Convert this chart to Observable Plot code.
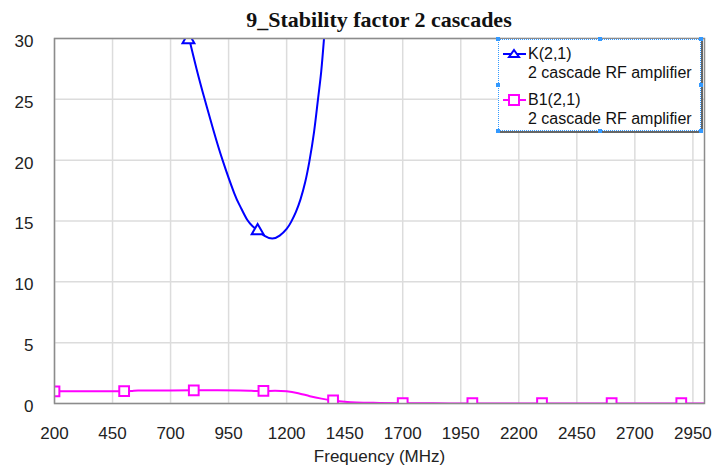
<!DOCTYPE html>
<html><head><meta charset="utf-8">
<script src="https://cdn.jsdelivr.net/npm/d3@7"></script>
<script src="https://cdn.jsdelivr.net/npm/@observablehq/plot@0.6"></script>
<style>
body{margin:0;background:#fff;}
#wrap{position:relative;width:714px;height:468px;overflow:hidden;font-family:"Liberation Sans",Arial,sans-serif;}
#title{position:absolute;left:54px;top:5px;width:650px;height:30px;line-height:30px;text-align:center;font-family:"Liberation Serif","Times New Roman",serif;font-weight:bold;font-size:22px;color:#111;white-space:nowrap;}
#chart{position:absolute;left:0;top:30px;}
#legend{position:absolute;left:498px;top:39px;width:203px;height:92px;background:#fff;border:1px dotted #3399ff;box-shadow:2px 2px 0 #666;box-sizing:border-box;}
#legend .t{position:absolute;left:29px;font-size:16px;line-height:18px;color:#111;white-space:nowrap;}
#legend svg{position:absolute;left:4px;}
.h{position:absolute;width:4px;height:4px;background:#3399ff;}
</style></head><body>
<div id="wrap">
<div id="title">9_Stability factor 2 cascades</div>
<div id="chart"></div>
<div id="legend"></div>
</div>
<script>
// K(2,1) trace
const kFreq  = [750, 780, 812, 847, 884, 924, 974, 1000, 1030, 1055, 1075, 1105, 1138, 1170, 1200, 1220, 1240, 1260, 1280, 1298, 1318, 1335, 1349, 1361, 1372];
const kValue = [32.4, 30, 27.5, 25, 22.5, 20, 17.3, 16.2, 15.1, 14.55, 14.2, 13.78, 13.56, 13.8, 14.35, 14.95, 15.75, 16.8, 18.2, 19.9, 22.3, 25, 27.3, 30, 32.6];
const kMarkFreq  = [777, 1075];
const kMarkValue = [29.9, 14.2];
// B1(2,1) trace
const b1Freq  = [200, 300, 400, 500, 530, 560, 600, 700, 800, 900, 1000, 1040, 1060, 1100, 1150, 1200, 1250, 1300, 1350, 1400, 1450, 1500, 1600, 1700, 1800, 1900, 2000, 2200, 2400, 2600, 2800, 3000];
const b1Value = [1.0, 1.0, 1.0, 1.01, 1.03, 1.07, 1.07, 1.07, 1.08, 1.08, 1.07, 1.05, 1.03, 1.03, 1.04, 1.0, 0.85, 0.6, 0.4, 0.25, 0.14, 0.08, 0.05, 0.03, 0.02, 0.01, 0.01, 0.01, 0.01, 0.01, 0.01, 0.01];
const b1MarkFreq  = [200, 500, 800, 1100, 1400, 1700, 2000, 2300, 2600, 2900];
const b1MarkValue = [1.0, 1.01, 1.08, 1.03, 0.25, 0.04, 0.04, 0.04, 0.04, 0.04];
// axes
const xTicks = [200, 450, 700, 950, 1200, 1450, 1700, 1950, 2200, 2450, 2700, 2950];
const yTicks = [0, 5, 10, 15, 20, 25, 30];
const xDomain = [200, 3000];
const yDomain = [0, 30];
const xLabel = "Frequency (MHz)";
const legendNames = ["K(2,1)", "B1(2,1)"];
const legendSub = "2 cascade RF amplifier";
const colors = ["#0000ff", "#ff00ff"];

const kLine = kFreq.map((f, i) => ({f, v: kValue[i]}));
const kMarks = kMarkFreq.map((f, i) => ({f, v: kMarkValue[i]}));
const b1Line = b1Freq.map((f, i) => ({f, v: b1Value[i]}));
const b1Marks = b1MarkFreq.map((f, i) => ({f, v: b1MarkValue[i]}));

const chart = Plot.plot({
  width: 714, height: 438,
  marginTop: 8, marginBottom: 65, marginLeft: 54, marginRight: 10,
  style: {fontFamily: "'Liberation Sans', Arial, sans-serif", fontSize: "17px", color: "#222", background: "transparent"},
  x: {domain: xDomain, ticks: xTicks},
  y: {domain: yDomain, ticks: yTicks},
  marks: [
    Plot.gridX(xTicks, {stroke: "#dcdcdc", strokeOpacity: 1, strokeWidth: 1.5}),
    Plot.gridY(yTicks, {stroke: "#dcdcdc", strokeOpacity: 1, strokeWidth: 1.5}),
    Plot.axisX(xTicks, {tickSize: 0, tickPadding: 23, fontSize: 17, tickFormat: d => String(d), label: xLabel, labelAnchor: "center", labelArrow: "none", labelOffset: 58}),
    Plot.axisY(yTicks, {tickSize: 0, tickPadding: 21, fontSize: 17, dy: 3, tickFormat: d => String(d), label: null}),
    Plot.lineY(b1Line, {x: "f", y: "v", stroke: colors[1], strokeWidth: 2, curve: "monotone-x", clip: true}),
    Plot.dot(b1Marks, {x: "f", y: "v", symbol: "square", r: 5.5, stroke: colors[1], strokeWidth: 2, fill: "white", clip: true}),
    Plot.lineY(kLine, {x: "f", y: "v", stroke: colors[0], strokeWidth: 2, curve: "natural", clip: true}),
    Plot.dot(kMarks, {x: "f", y: "v", symbol: "triangle", r: 4.4, stroke: colors[0], strokeWidth: 2, fill: "white", clip: true}),
    Plot.frame({stroke: "#8c8c8c", strokeWidth: 1.5})
  ]
});
document.getElementById("chart").appendChild(chart);

// legend
const lg = document.getElementById("legend");
const rows = [13, 59];
const symbols = [
  '<polygon points="11,2 16,9 6,9" fill="white" stroke="' + colors[0] + '" stroke-width="2"/>',
  '<rect x="6" y="1" width="10" height="10" fill="white" stroke="' + colors[1] + '" stroke-width="2"/>'
];
legendNames.forEach((name, i) => {
  const top = rows[i];
  lg.insertAdjacentHTML("beforeend",
    '<svg width="24" height="12" style="top:' + (top - 5) + 'px">' +
    '<line x1="0" y1="6" x2="23" y2="6" stroke="' + colors[i] + '" stroke-width="2"/>' +
    symbols[i] + '</svg>' +
    '<div class="t" style="top:' + (top - 8) + 'px">' + name + '</div>' +
    '<div class="t" style="top:' + (top + 11) + 'px">' + legendSub + '</div>');
});
// selection handles
const wrap = document.getElementById("wrap");
[[496,37],[598,37],[699,37],[496,83],[699,83],[496,129],[598,129],[699,129]].forEach(([x, y]) => {
  wrap.insertAdjacentHTML("beforeend", '<div class="h" style="left:' + x + 'px;top:' + y + 'px"></div>');
});
</script>
</body></html>
